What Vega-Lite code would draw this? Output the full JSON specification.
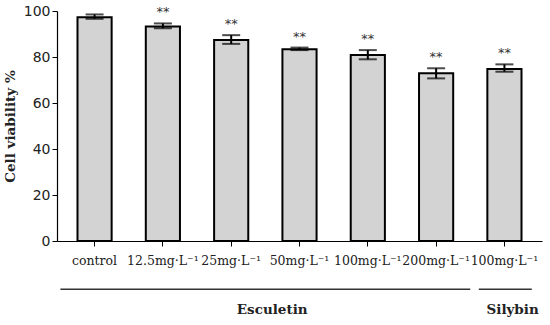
{
  "$schema": "https://vega.github.io/schema/vega-lite/v6.json",
  "width": 485,
  "height": 230,
  "autosize": "none",
  "padding": {"left": 57, "top": 11, "right": 8, "bottom": 84},
  "background": "white",
  "config": {"view": {"stroke": null}, "font": "DejaVu Serif"},
  "data": {"values": [
    {"label": "control", "value": 97.3, "lo": 96.6, "hi": 98.5, "sig": ""},
    {"label": "12.5mg·L⁻¹", "value": 93.3, "lo": 92.5, "hi": 94.6, "sig": "**"},
    {"label": "25mg·L⁻¹", "value": 87.4, "lo": 85.7, "hi": 89.5, "sig": "**"},
    {"label": "50mg·L⁻¹", "value": 83.4, "lo": 83.0, "hi": 84.1, "sig": "**"},
    {"label": "100mg·L⁻¹ ", "value": 80.9, "lo": 79.0, "hi": 83.0, "sig": "**"},
    {"label": "200mg·L⁻¹", "value": 72.9, "lo": 70.7, "hi": 75.1, "sig": "**"},
    {"label": "100mg·L⁻¹", "value": 74.8, "lo": 73.6, "hi": 76.8, "sig": "**"}
  ]},
  "encoding": {
    "x": {
      "field": "label", "type": "nominal", "sort": null,
      "scale": {"paddingInner": 0.5, "paddingOuter": 0.3},
      "axis": {"title": null, "labelAngle": 0, "labelFontSize": 12.5, "labelColor": "#222", "labelPadding": 8, "tickSize": 5, "tickColor": "#000", "domainColor": "#000", "domainWidth": 1.2, "labelOverlap": false, "labelFont": "DejaVu Serif"}
    }
  },
  "layer": [
    {
      "mark": {"type": "bar", "fill": "#d3d3d3", "stroke": "#000", "strokeWidth": 2},
      "encoding": {
        "y": {"field": "value", "type": "quantitative",
          "scale": {"domain": [0, 100], "nice": false},
          "axis": {"title": "Cell viability %", "titleFont": "DejaVu Serif", "titleFontSize": 13.5, "titleFontWeight": "bold", "titleColor": "#222", "titlePadding": 6, "values": [0, 20, 40, 60, 80, 100], "labelFontSize": 14, "labelColor": "#222", "grid": false, "tickSize": 5, "tickColor": "#000", "domainColor": "#000", "domainWidth": 1.2, "labelFont": "DejaVu Sans"}}
      }
    },
    {
      "mark": {"type": "rule", "stroke": "#000", "strokeWidth": 2},
      "encoding": {"y": {"field": "lo", "type": "quantitative"}, "y2": {"field": "hi"}}
    },
    {
      "mark": {"type": "tick", "color": "#000", "thickness": 2, "size": 18},
      "encoding": {"y": {"field": "lo", "type": "quantitative"}}
    },
    {
      "mark": {"type": "tick", "color": "#000", "thickness": 2, "size": 18},
      "encoding": {"y": {"field": "hi", "type": "quantitative"}}
    },
    {
      "mark": {"type": "text", "fontSize": 13, "dy": -11, "baseline": "middle", "fill": "#333", "font": "DejaVu Sans"},
      "encoding": {"y": {"field": "hi", "type": "quantitative"}, "text": {"field": "sig"}}
    },
    {
      "data": {"values": [{"start": "control", "end": "200mg·L⁻¹", "y": -21}]},
      "mark": {"type": "rule", "stroke": "#333", "strokeWidth": 1.5},
      "encoding": {
        "x": {"field": "start", "type": "nominal", "bandPosition": -0.5},
        "x2": {"field": "end", "bandPosition": 1.5},
        "y": {"field": "y", "type": "quantitative"}
      }
    },
    {
      "data": {"values": [{"start": "100mg·L⁻¹", "end": "100mg·L⁻¹", "y": -21}]},
      "mark": {"type": "rule", "stroke": "#333", "strokeWidth": 1.5},
      "encoding": {
        "x": {"field": "start", "type": "nominal", "bandPosition": -0.25},
        "x2": {"field": "end", "bandPosition": 1.3},
        "y": {"field": "y", "type": "quantitative"}
      }
    },
    {
      "data": {"values": [{"at": "25mg·L⁻¹", "name": "Esculetin", "y": -30}]},
      "mark": {"type": "text", "fontSize": 13.5, "fontWeight": "bold", "fill": "#222", "baseline": "middle"},
      "encoding": {
        "x": {"field": "at", "type": "nominal", "bandPosition": 1.7},
        "y": {"field": "y", "type": "quantitative"},
        "text": {"field": "name"}
      }
    },
    {
      "data": {"values": [{"at": "100mg·L⁻¹", "name": "Silybin", "y": -30}]},
      "mark": {"type": "text", "fontSize": 13.5, "fontWeight": "bold", "fill": "#222", "baseline": "middle"},
      "encoding": {
        "x": {"field": "at", "type": "nominal", "bandPosition": 0.74},
        "y": {"field": "y", "type": "quantitative"},
        "text": {"field": "name"}
      }
    }
  ]
}
